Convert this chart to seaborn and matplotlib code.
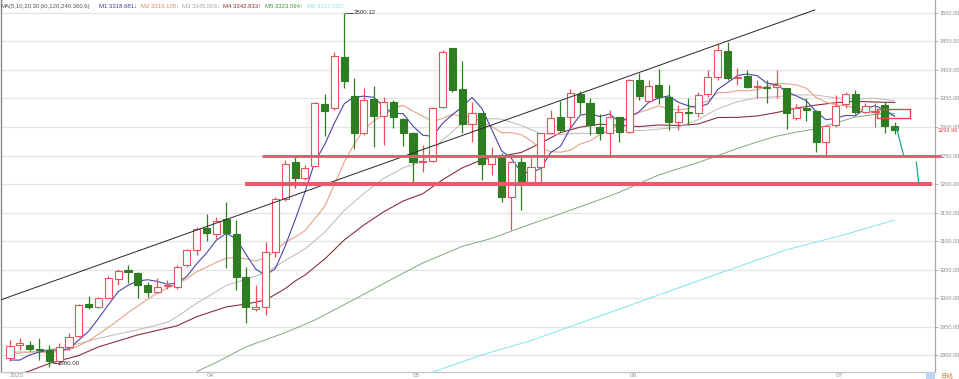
import numpy as np
import pandas as pd
import matplotlib
matplotlib.use("Agg")
import matplotlib.pyplot as plt
import matplotlib.transforms as mtransforms
from matplotlib.patches import Rectangle
import seaborn as sns

# ---------------- data ----------------
opens = [2895, 2919, 2918.6, 2911, 2910, 2889.5, 2915.7, 2934.9, 2989.5, 2984.3,
         3001, 3033, 3049.4, 3043.6, 3023, 3011.6, 3021, 3019, 3058, 3085.5,
         3123, 3113, 3138.4, 3113, 3036.6, 2982, 2985, 3081, 3174.4, 3237.9,
         3210, 3232, 3340, 3332.5, 3421.8, 3354, 3288.7, 3348.8, 3319.6, 3343,
         3313.2, 3288.7, 3238.5, 3240.8, 3335.4, 3437.5, 3366.3, 3306, 3323.7, 3236,
         3251, 3177.7, 3239, 3204.5, 3229.6, 3289, 3317, 3317, 3357.9, 3342.7,
         3299.6, 3289, 3317, 3290.8, 3382.4, 3346.2, 3373.6, 3353.2, 3309.5, 3326,
         3324, 3357.9, 3387, 3433, 3385.3, 3389.4, 3370, 3370, 3369.5, 3367.8,
         3315.3, 3334, 3328, 3274.5, 3303.6, 3340.4, 3357.9, 3326, 3326, 3338.6,
         3301.9]
highs = [2927, 2930, 2926, 2931, 2919, 2922.7, 2940, 2989.5, 3004, 3003,
         3039, 3052, 3058, 3046.5, 3029, 3035, 3032, 3059, 3087, 3125,
         3148, 3142.5, 3168.6, 3136.6, 3055, 3023, 3098.8, 3177, 3242, 3246.6,
         3233, 3344, 3357.6, 3431.7, 3500.12, 3386, 3367.5, 3371.6, 3353, 3347,
         3315, 3291.6, 3268, 3335.4, 3434.6, 3438, 3415, 3344, 3324, 3265.4,
         3254, 3240, 3250.7, 3246, 3290, 3330, 3345, 3366, 3363, 3350,
         3323, 3330, 3318, 3383.5, 3394, 3382.4, 3402, 3373.6, 3338.6, 3350.8,
         3362, 3400, 3445.3, 3449.4, 3402.8, 3399.9, 3382, 3382, 3399.9, 3368,
         3340, 3350, 3329.9, 3301.9, 3356, 3362, 3365, 3342, 3341.5, 3344.5,
         3307.9]
lows = [2890, 2910, 2907, 2892, 2880, 2884, 2910, 2933, 2981, 2983,
        3000, 3023, 3027, 3000, 3003, 3008.7, 3017, 3017, 3055, 3076,
        3100.6, 3104.6, 3052.3, 3014.5, 2956, 2977, 2970.9, 3072.7, 3170, 3192.4,
        3207, 3230, 3284, 3329.5, 3367.5, 3260.7, 3286, 3265.3, 3268, 3298.6,
        3267, 3202.3, 3221.5, 3239, 3332.5, 3361.7, 3288.7, 3273.6, 3207, 3215.7,
        3169, 3119.4, 3154.4, 3203, 3204.5, 3289, 3291, 3298, 3323, 3286,
        3277, 3247, 3273, 3289, 3347.6, 3344.5, 3341, 3295, 3295, 3304,
        3317, 3353, 3382.4, 3382.4, 3373.6, 3368, 3350, 3341.5, 3350, 3296,
        3312.6, 3311, 3257, 3248, 3300.7, 3333, 3323, 3325, 3300.7, 3290,
        3287]
closes = [2916, 2921, 2911.6, 2909, 2889.5, 2915.7, 2933, 2988.4, 2985.5, 3001,
          3034.9, 3047.7, 3045.3, 3023.3, 3011.6, 3020.4, 3023, 3055, 3084, 3121,
          3114.5, 3135, 3114.5, 3037.8, 2984.3, 2984, 3081, 3174, 3235.5, 3210.5,
          3228.5, 3342.4, 3327.8, 3424, 3380.3, 3288.7, 3348, 3319, 3343, 3318,
          3288.7, 3238, 3240.5, 3332.5, 3431.7, 3364.6, 3305, 3325, 3236, 3248,
          3177.7, 3239, 3204, 3229.6, 3289, 3315.3, 3295, 3359, 3344.5, 3303.6,
          3289, 3317, 3290.8, 3382.4, 3355, 3372, 3353.2, 3309.5, 3325.8, 3325,
          3356, 3387, 3434.8, 3385.3, 3387, 3369.5, 3372, 3369, 3373.6, 3324,
          3332.8, 3329.9, 3274.5, 3301.9, 3336.9, 3357.3, 3327, 3337, 3328, 3301.9,
          3293.96]

ma5 = [2892, 2892, 2901, 2906, 2909.4, 2909.4, 2911.8, 2927.1, 2942.4, 2964.7,
       2988.6, 3011.5, 3022.9, 3030.4, 3032.6, 3029.7, 3024.7, 3026.7, 3038.8, 3060.7,
       3079.5, 3101.9, 3113.8, 3104.6, 3077.2, 3051.1, 3040.3, 3052.2, 3091.8, 3137.0,
       3185.9, 3238.2, 3268.9, 3306.6, 3340.6, 3352.6, 3353.8, 3352.0, 3335.8, 3323.3,
       3323.3, 3301.3, 3285.6, 3283.5, 3306.3, 3321.5, 3334.9, 3351.8, 3332.5, 3295.7,
       3258.3, 3245.1, 3220.9, 3219.4, 3227.6, 3255.2, 3266.4, 3297.4, 3320.6, 3323.5,
       3318.2, 3322.6, 3309.0, 3316.6, 3326.8, 3343.4, 3350.7, 3354.4, 3343.1, 3337.1,
       3333.9, 3340.7, 3365.7, 3377.6, 3390.0, 3392.7, 3389.7, 3376.6, 3374.2, 3361.6,
       3354.3, 3345.9, 3327.0, 3312.6, 3315.2, 3320.1, 3319.5, 3332.0, 3337.2, 3330.2,
       3318.7]
ma10 = [2906, 2906, 2906, 2906, 2905, 2907, 2910, 2917, 2926, 2937.1,
        2949.0, 2961.6, 2975.0, 2986.4, 2998.6, 3009.1, 3018.1, 3024.8, 3034.6, 3046.6,
        3054.6, 3063.3, 3070.2, 3071.7, 3069.0, 3065.3, 3071.1, 3083.0, 3098.2, 3107.1,
        3118.5, 3139.3, 3160.6, 3199.2, 3238.8, 3269.3, 3296.0, 3310.5, 3321.2, 3332.0,
        3338.0, 3327.6, 3318.8, 3309.7, 3314.8, 3322.4, 3318.1, 3318.7, 3308.0, 3301.0,
        3289.9, 3290.0, 3286.4, 3276.0, 3261.7, 3256.8, 3255.8, 3259.2, 3270.0, 3275.6,
        3286.7, 3294.5, 3303.2, 3318.6, 3325.2, 3330.8, 3336.7, 3331.7, 3329.8, 3332.0,
        3338.7, 3345.7, 3360.1, 3360.4, 3363.6, 3363.3, 3365.2, 3371.1, 3375.9, 3375.8,
        3373.5, 3367.8, 3351.8, 3343.4, 3338.4, 3337.2, 3332.7, 3329.5, 3324.9, 3322.7,
        3319.1]
ma20_idx = [0, 3, 6, 9, 13, 16, 17, 19, 20, 22, 24, 26, 28, 30, 32, 34, 36, 38, 40,
            42, 44, 46, 48, 50, 52, 54, 56, 58, 60, 62, 64, 66, 68, 70, 72, 74, 76,
            78, 80, 82, 84, 86, 88, 90]
ma20 = [2902, 2908, 2916, 2930, 2945, 2958, 2968, 2991.8, 3001.8, 3022.6, 3033.8,
        3044.6, 3066.4, 3086.5, 3115.4, 3153.9, 3183.5, 3209.7, 3228.3, 3239.7, 3276.8,
        3307.0, 3314.6, 3313.9, 3302.6, 3288.2, 3286.9, 3289.0, 3288.3, 3294.8, 3293.4,
        3296.2, 3299.9, 3312.7, 3331.6, 3344.4, 3350.9, 3352.9, 3356.1, 3355.9, 3351.0,
        3348.9, 3350.4, 3345.5]
ma30_idx = [0, 2, 4, 7, 9, 13, 17, 19, 22, 24, 26, 28, 29] + list(range(30, 91, 2))
ma30 = [2862, 2873, 2886, 2900, 2915, 2936, 2952, 2968, 2985, 2990, 2997, 3017, 3030.3,
        3040.7, 3068.6, 3102.1, 3128.4, 3151.3, 3170.4, 3183.2, 3207.5, 3228.4, 3242.5,
        3248.8, 3255.3, 3271.8, 3290.0, 3299.7, 3304.9, 3302.8, 3300.6, 3303.5, 3302.6,
        3305.1, 3316.5, 3316.8, 3319.2, 3325.3, 3333.0, 3338.3, 3342.4, 3344.8, 3343.6,
        3342.8]
ma60_idx = [19, 21, 24, 28, 31, 35, 39, 42, 46, 49, 52, 56, 59] + list(range(60, 91, 2))
ma60 = [2872, 2888, 2915, 2940, 2962, 2998, 3035, 3062, 3091, 3105, 3124, 3148, 3166.6,
        3172.8, 3185.7, 3201.3, 3215.9, 3227.0, 3237.7, 3249.9, 3262.2, 3273.8, 3283.9,
        3290.9, 3296.8, 3307.1, 3317.4, 3321.7, 3323.6]
ma120_idx = [43, 48, 53, 60, 66, 72, 79, 85, 90]
ma120 = [2871, 2901, 2926, 2969, 3006, 3043, 3085, 3112, 3137.3]

ma_header = "MA(5,10,20,30,60,120,240,360,6)"
ma_labels = ["M1 3318.681\u2193", "M2 3319.105\u2193", "M3 3345.503\u2193",
             "M4 3342.833\u2191", "M5 3323.594\u2191", "M6 3137.333\u2191"]

y_ticks = [2900, 2950, 3000, 3050, 3100, 3150, 3200, 3250, 3300, 3350, 3400, 3450, 3500]
x_ticks = [4, 9, 14, 19, 24, 29, 33, 38, 43, 48, 53, 58, 63, 68, 73, 78, 83, 88]
month_pos = [0, 20, 41, 63, 84]
month_lab = ["2025", "04", "05", "06", "07"]

support_levels = [3250, 3200]
trend_x = [-1.0, 81.9]
trend_y = [2997, 3505]
last_price = 3293.96

# ---------------- style ----------------
sns.set_style("white")
plt.rcParams['font.family'] = ['Liberation Sans', 'Noto Sans CJK SC', 'DejaVu Sans']

W, H = 959, 379
fig = plt.figure(figsize=(W / 100, H / 100), dpi=100)
ax = fig.add_axes([1 / W, 7 / H, 934 / W, 372 / H])
x0, x1 = -0.916, 94.1
ax.set_xlim(x0, x1)
ax.set_ylim(2871.1, 3522.2)

UP = '#e8505a'
DN = '#2f7d22'

# grid
ax.hlines(y_ticks, x0, x1, colors='#e4e4e4', lw=0.9, zorder=0)

# moving averages
n = len(closes)
xs = np.arange(n)
ma_specs = [
    (ma120_idx, ma120, '#8fe6f2', 0.8),
    (ma60_idx, ma60, '#82a882', 0.7),
    (ma30_idx, ma30, '#8a3040', 0.8),
    (ma20_idx, ma20, '#c2b6b4', 0.7),
    (list(xs), ma10, '#e9a086', 0.8),
    (list(xs), ma5, '#4848a8', 0.8),
]
for idx, vals, col, lw in ma_specs:
    df = pd.DataFrame({'x': idx, 'y': vals})
    sns.lineplot(data=df, x='x', y='y', ax=ax, color=col, lw=lw,
                 estimator=None, sort=False, legend=False, zorder=2)

# candles
bw = 0.72
for i in range(n):
    o, h, l, c = opens[i], highs[i], lows[i], closes[i]
    up = c >= o
    col = UP if up else DN
    ax.vlines(i, l, h, colors=col, lw=0.9, zorder=3)
    bot = min(o, c)
    ht = max(abs(c - o), 0.8)
    ax.add_patch(Rectangle((i - bw / 2, bot), bw, ht,
                           facecolor='white' if up else DN,
                           edgecolor=col, lw=0.8, zorder=4))

# trend line and supports
ax.plot(trend_x, trend_y, color='#262626', lw=0.7, zorder=5)
ax.plot([25.6, 94.7], [support_levels[0]] * 2, color='#f0566c', lw=2.1,
        zorder=6, clip_on=False, solid_capstyle='butt')
ax.plot([23.9, 93.8], [support_levels[1]] * 2, color='#f0566c', lw=2.9,
        zorder=6, clip_on=False, solid_capstyle='butt')

# forecast strokes
ax.plot([90.2, 90.9], [3297.8, 3251], color='#1ca88a', lw=0.9, zorder=7)
ax.plot([92.2, 92.45], [3239, 3201], color='#1ca88a', lw=0.9, zorder=7)

# red box
ax.add_patch(Rectangle((88.2, 3315.8), 3.4, 15.6, facecolor='none',
                       edgecolor='#e8404e', lw=1.0, zorder=7, joinstyle='round'))

# high / low labels
ih = int(np.argmax(highs))
ax.plot([ih + 0.1, ih + 0.9], [highs[ih]] * 2, color='#333333', lw=0.6, zorder=6)
ax.text(ih + 1.0, highs[ih], f"{highs[ih]:.2f}", fontsize=4.4, color='#333333',
        va='center', ha='left', zorder=8)
il = int(np.argmin(lows))
ax.plot([il + 0.4, il + 0.9], [lows[il] + 6] * 2, color='#333333', lw=0.6, zorder=6)
ax.text(il + 0.9, lows[il] + 6, f"{lows[il]:.2f}", fontsize=4.4, color='#333333',
        va='center', ha='left', zorder=8)

# axes styling
ax.spines['top'].set_visible(False)
ax.spines['left'].set_color('#8a8a8a')
ax.spines['left'].set_linewidth(1.0)
ax.spines['right'].set_color('#a8a8a8')
ax.spines['right'].set_linewidth(0.9)
ax.spines['bottom'].set_color('#c4c4c4')
ax.spines['bottom'].set_linewidth(0.9)

ax.yaxis.tick_right()
ax.set_yticks(y_ticks)
ax.set_yticklabels([f"{v:.2f}" for v in y_ticks])
ax.tick_params(axis='y', length=2.5, width=0.6, color='#aaaaaa', pad=0.8,
               labelsize=4.1, labelcolor='#8c8c8c')
ax.set_xticks(x_ticks)
ax.set_xticklabels([])
ax.tick_params(axis='x', length=3, width=0.6, color='#b0b0b0', direction='inout')
ax.set_xlabel('')
ax.set_ylabel('')

# last price label (drawn over the 3300 tick label, as in the reference)
ytr = mtransforms.blended_transform_factory(ax.transAxes, ax.transData)
ax.text(1.0030, last_price, f"{last_price:.2f}", transform=ytr, fontsize=4.1,
        color='#e04848', va='center', ha='left', clip_on=False, zorder=9,
        bbox=dict(boxstyle='square,pad=0.05', fc='white', ec='none'))

# month labels
xtr = mtransforms.blended_transform_factory(ax.transData, fig.transFigure)
for p, lab in zip(month_pos, month_lab):
    ax.text(p, 3.2 / H, lab, transform=xtr, fontsize=4.6, color='#9a9a9a',
            ha='left', va='center', clip_on=False)

# MA header texts
fy = 1 - 6.5 / H
fig.text(0.5 / W, fy, ma_header, fontsize=4.3, color='#555555', va='center', ha='left')
lab_x = [99, 140.7, 181.7, 223, 265, 306.7]
lab_c = ['#3c3ca0', '#e8835a', '#a6a6a6', '#9a2a3a', '#3f963f', '#86e2f0']
for xx, t, cc in zip(lab_x, ma_labels, lab_c):
    fig.text(xx / W, fy, t, fontsize=4.3, color=cc, va='center', ha='left')

# bottom-right period badge
fig.patches.append(Rectangle((926 / W, 0), 9 / W, 7 / H, transform=fig.transFigure,
                             facecolor='#bcd6f2', edgecolor='none'))
fig.text(941 / W, 3.2 / H, "日线", fontsize=4.6, color='#e07a3a', va='center',
         ha='left', family=['Noto Sans CJK SC', 'DejaVu Sans'])

fig.savefig("out.png", dpi=100)
